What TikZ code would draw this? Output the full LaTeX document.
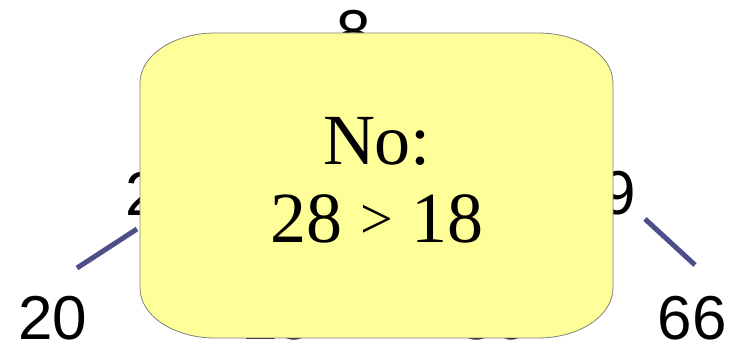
\documentclass[tikz,border=0pt]{standalone}
\usepackage{fontspec}
\setmainfont{Liberation Serif}
\newfontfamily\arbolfont{Liberation Sans}
\usetikzlibrary{calc}

\begin{document}
\begin{tikzpicture}[
    x=1pt, y=1pt,
    every node/.style={align=center, inner sep=0pt},
    numero/.style={font=\arbolfont\fontsize{62}{70}\selectfont},
    arista/.style={line width=5pt, color={rgb,255:red,76;green,79;blue,138}},
    cartel/.style={fill={rgb,255:red,255;green,255;blue,153}, draw=gray, line width=0.8pt},
    texto/.style={font=\fontsize{72}{78}\selectfont}
]
    \useasboundingbox (0,0) rectangle (749,349);
    % arbol
    \node[numero] (raiz) at (354,317) {8};
    \node[numero] (izq)  at (160,155) {28};
    \node[numero] (der)  at (602,156) {49};
    \node[numero] (h1)   at (53,31)   {20};
    \node[numero] (h2)   at (278,31)  {25};
    \node[numero] (h3)   at (494,31)  {36};
    \node[numero] (h4)   at (692,31)  {66};

    \draw[arista] ($(izq)+(-23,-35)$) -- ($(h1)+(24,50)$);
    \draw[arista] ($(der)+(43,-26)$)  -- ($(h4)+(3,53)$);

    % cartel encima
    \draw[cartel] (140,61) -- (140,266)
        arc[start angle=180, end angle=90, x radius=75, y radius=50] -- (538,316)
        arc[start angle=90, end angle=0, x radius=75, y radius=50] -- (613,61)
        arc[start angle=0, end angle=-90, x radius=75, y radius=50] -- (215,11)
        arc[start angle=270, end angle=180, x radius=75, y radius=50] -- cycle;
    \node[texto] (respuesta) at (377,169)
        {No:\\ 28 \raisebox{4pt}{\fontsize{58}{58}\selectfont >} 18};
\end{tikzpicture}
\end{document}
